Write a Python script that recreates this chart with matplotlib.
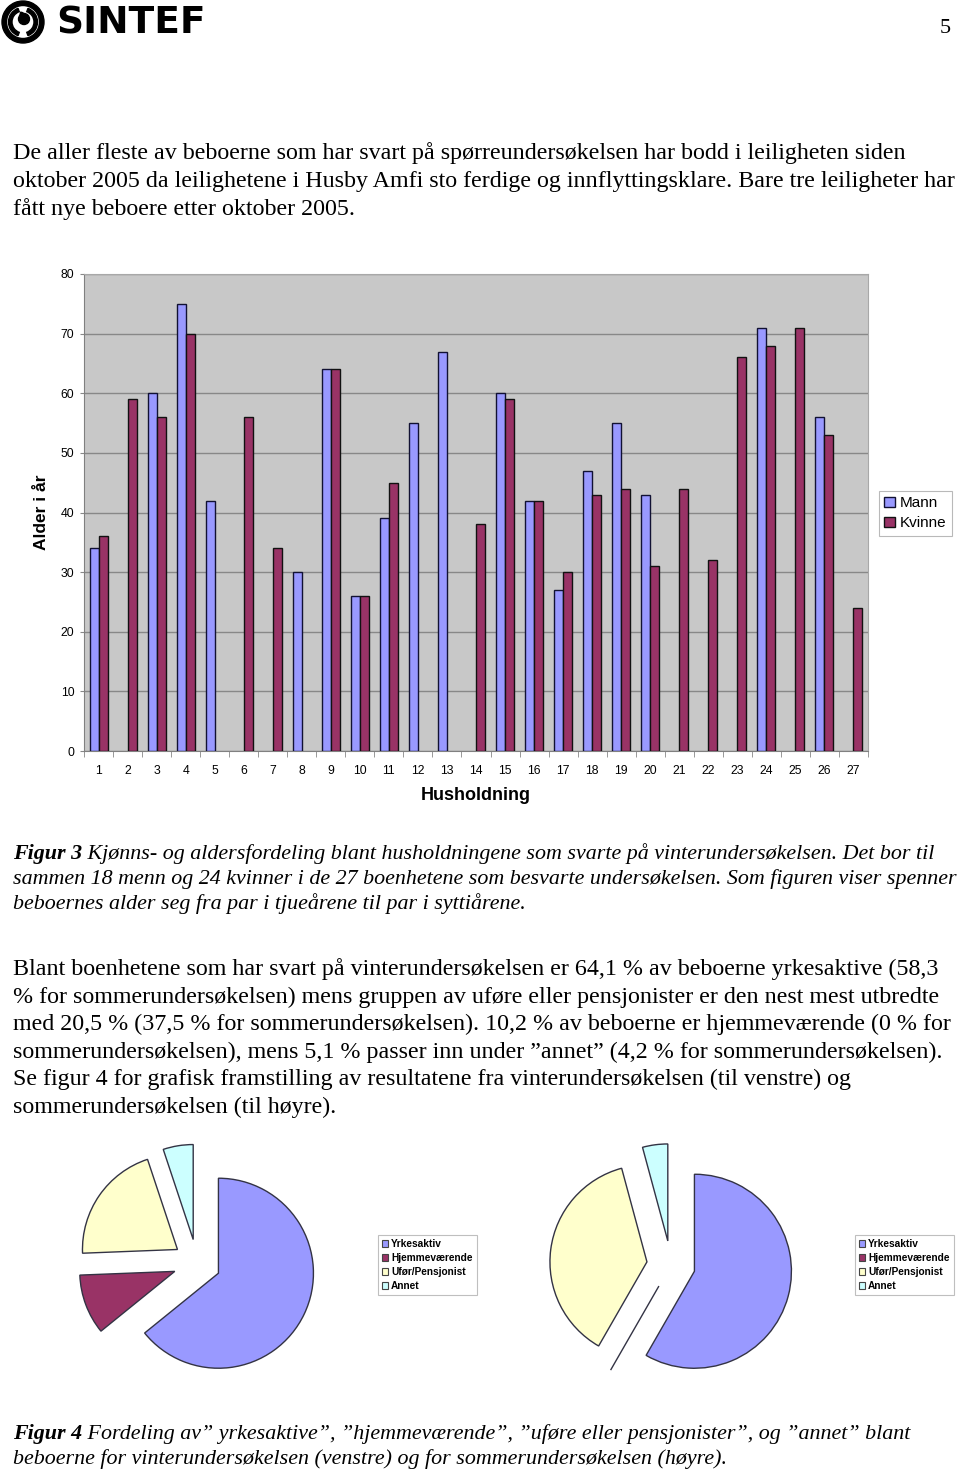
import numpy as np
import matplotlib
matplotlib.use('Agg')
import matplotlib.pyplot as plt
from matplotlib.patches import Circle, Wedge, Patch

W, H = 960, 1471

# ── data ─────────────────────────────────────────────────────────────────────
households = list(range(1, 28))
mann = [34, None, 60, 75, 42, None, None, 30, 64, 26, 39, 55, 67, None,
        60, 42, 27, 47, 55, 43, None, None, None, 71, None, 56, None]
kvinne = [36, 59, 56, 70, None, 56, 34, None, 64, 26, 45, None, None, 38,
          59, 42, 30, 43, 44, 31, 44, 32, 66, 68, 71, 53, 24]

pie_labels = ['Yrkesaktiv', 'Hjemmeværende', 'Ufør/Pensjonist', 'Annet']
vinter = [64.1, 10.2, 20.5, 5.1]
sommer = [58.3, 0.0, 37.5, 4.2]
pie_colors = ['#9999FF', '#993366', '#FFFFCC', '#CCFFFF']

para1 = [
    "De aller fleste av beboerne som har svart på spørreundersøkelsen har bodd i leiligheten siden",
    "oktober 2005 da leilighetene i Husby Amfi sto ferdige og innflyttingsklare. Bare tre leiligheter har",
    "fått nye beboere etter oktober 2005.",
]
cap3 = [
    ("Figur 3", " Kjønns- og aldersfordeling blant husholdningene som svarte på vinterundersøkelsen. Det bor til"),
    ("", "sammen 18 menn og 24 kvinner i de 27 boenhetene som besvarte undersøkelsen. Som figuren viser spenner"),
    ("", "beboernes alder seg fra par i tjueårene til par i syttiårene."),
]
para2 = [
    "Blant boenhetene som har svart på vinterundersøkelsen er 64,1 % av beboerne yrkesaktive (58,3",
    "% for sommerundersøkelsen) mens gruppen av uføre eller pensjonister er den nest mest utbredte",
    "med 20,5 % (37,5 % for sommerundersøkelsen). 10,2 % av beboerne er hjemmeværende (0 % for",
    "sommerundersøkelsen), mens 5,1 % passer inn under \u201dannet\u201d (4,2 % for sommerundersøkelsen).",
    "Se figur 4 for grafisk framstilling av resultatene fra vinterundersøkelsen (til venstre) og",
    "sommerundersøkelsen (til høyre).",
]
cap4 = [
    ("Figur 4", " Fordeling av\u201d yrkesaktive\u201d, \u201dhjemmeværende\u201d, \u201duføre eller pensjonister\u201d, og \u201dannet\u201d blant"),
    ("", "beboerne for vinterundersøkelsen (venstre) og for sommerundersøkelsen (høyre)."),
]


def fx(px):
    return px / W


def fy(py):
    return 1 - py / H


fig = plt.figure(figsize=(W / 100, H / 100), dpi=100)
fig.patch.set_facecolor('white')
renderer = fig.canvas.get_renderer()
SERIF = 'Liberation Serif'
SANS = 'Liberation Sans'


def fit_size(lines, target, **kw):
    # font size that makes the widest line span `target` pixels
    widths = []
    for s in lines:
        t = fig.text(0, 0, s, fontsize=10, **kw)
        widths.append(t.get_window_extent(renderer).width)
        t.remove()
    return 10 * target / max(widths)


def write_lines(lines, y0, step, size, **kw):
    for i, s in enumerate(lines):
        fig.text(fx(13), fy(y0 + i * step), s, fontsize=size, family=SERIF,
                 va='baseline', ha='left', **kw)


def write_caption(lines, y0, step, size):
    for i, (head, rest) in enumerate(lines):
        x = fx(13)
        if head:
            t = fig.text(x, fy(y0 + i * step), head, fontsize=size, family=SERIF,
                         style='italic', weight='bold', va='baseline')
            x = t.get_window_extent(renderer).x1 / W
        fig.text(x, fy(y0 + i * step), rest, fontsize=size, family=SERIF,
                 style='italic', va='baseline')


# ── page text ────────────────────────────────────────────────────────────────
s1 = fit_size(para1, 943, family=SERIF)
write_lines(para1, 159, 27.8, s1)
s3 = fit_size([h + r for h, r in cap3], 943, family=SERIF, style='italic')
write_caption(cap3, 859, 25, s3)
write_lines(para2, 975, 27.6, s1)
write_caption(cap4, 1439, 25, s3)
fig.text(fx(945), fy(33), "5", fontsize=16, family=SERIF, ha='center', va='baseline')

# ── logo ─────────────────────────────────────────────────────────────────────
lg = fig.add_axes([0, 0, 1, 1], zorder=-1)
lg.set_xlim(0, W); lg.set_ylim(H, 0); lg.axis('off')
lg.add_patch(Wedge((23, 22), 21, 0, 360, width=4.5, color='black'))
lg.add_patch(Wedge((23, 22), 14.5, 110, 250, width=3.5, color='black'))
lg.add_patch(Wedge((23, 22), 14.5, 290, 70, width=3.5, color='black'))
lg.add_patch(Circle((24, 19), 5.5, color='black'))
lg.add_patch(Wedge((19, 21), 9, -80, 10, width=3.5, color='black'))
lg.text(56, 23, "SINTEF", fontsize=27, family='DejaVu Sans', weight='bold',
        va='center', ha='left')

# ── bar chart ────────────────────────────────────────────────────────────────
ax = fig.add_axes([fx(84), fy(751), (868 - 84) / W, (751 - 274) / H])
ax.set_facecolor('#C8C8C8')
x = np.array(households, dtype=float)
m_idx = [i for i, v in enumerate(mann) if v is not None]
k_idx = [i for i, v in enumerate(kvinne) if v is not None]
bw = 0.31
ax.bar(x[m_idx] - bw / 2, [mann[i] for i in m_idx], bw, color='#9999FF',
       edgecolor='#111133', linewidth=1, label='Mann', zorder=3)
ax.bar(x[k_idx] + bw / 2, [kvinne[i] for i in k_idx], bw, color='#993366',
       edgecolor='#111111', linewidth=1, label='Kvinne', zorder=3)
ax.set_xlim(0.5, 27.5)
ax.set_ylim(0, 80)
ax.set_yticks(range(0, 81, 10))
ax.yaxis.grid(True, color='#888888', linewidth=1)
ax.set_axisbelow(True)
ax.set_xticks(x)
ax.set_xticks(np.arange(0.5, 28, 1), minor=True)
ax.tick_params(axis='x', which='major', length=0, pad=10, labelsize=8.8)
ax.tick_params(axis='x', which='minor', length=4, color='#888888')
ax.tick_params(axis='y', length=3, color='#888888', pad=4, labelsize=8.8)
for sp in ['left', 'bottom']:
    ax.spines[sp].set_color('#808080')
for sp in ['top', 'right']:
    ax.spines[sp].set_color('#A8A8A8')
for lab in ax.get_xticklabels() + ax.get_yticklabels():
    lab.set_family(SANS)
fig.text(fx(42), fy(512), "Alder i år", rotation=90, ha='center', va='center',
         fontsize=12.5, weight='bold', family=SANS)
fig.text(fx(476), fy(796), "Husholdning", ha='center', va='center',
         fontsize=13, weight='bold', family=SANS)
h, l = ax.get_legend_handles_labels()
leg = fig.legend(h, l, loc='upper left', bbox_to_anchor=(fx(879), fy(491)),
                 frameon=True, fancybox=False, edgecolor='#A8A8A8',
                 handlelength=0.7, handleheight=0.7, handletextpad=0.3,
                 borderpad=0.35, labelspacing=0.4, borderaxespad=0,
                 prop={'family': SANS, 'size': 11})
leg.get_frame().set_linewidth(0.8)


# ── pies ─────────────────────────────────────────────────────────────────────
def draw_pie(cx, cy, r, vals, leg_x):
    lim = 1.4
    s = 2 * r * lim
    pa = fig.add_axes([fx(cx - s / 2), fy(cy + s / 2), s / W, s / H])
    pa.pie(vals, colors=pie_colors, startangle=90, counterclock=False,
           explode=[0.25] * len(vals),
           wedgeprops=dict(edgecolor='#333344', linewidth=1))
    pa.set_xlim(-lim, lim)
    pa.set_ylim(-lim, lim)
    pa.set_aspect('equal')
    pa.axis('off')
    handles = [Patch(facecolor=c, edgecolor='#444444', linewidth=0.8) for c in pie_colors]
    lg2 = fig.legend(handles, pie_labels, loc='upper left',
                     bbox_to_anchor=(fx(leg_x), fy(1235)), frameon=True,
                     fancybox=False, edgecolor='#B0B0B0', handlelength=0.6,
                     handleheight=0.6, handletextpad=0.3, borderpad=0.4,
                     labelspacing=0.4, borderaxespad=0,
                     prop={'family': SANS, 'size': 7.3, 'weight': 'bold'})
    lg2.get_frame().set_linewidth(0.8)


draw_pie(197, 1263, 95, vinter, 378)
draw_pie(671, 1265, 97, sommer, 855)

fig.savefig('out.png', dpi=100, facecolor='white')
